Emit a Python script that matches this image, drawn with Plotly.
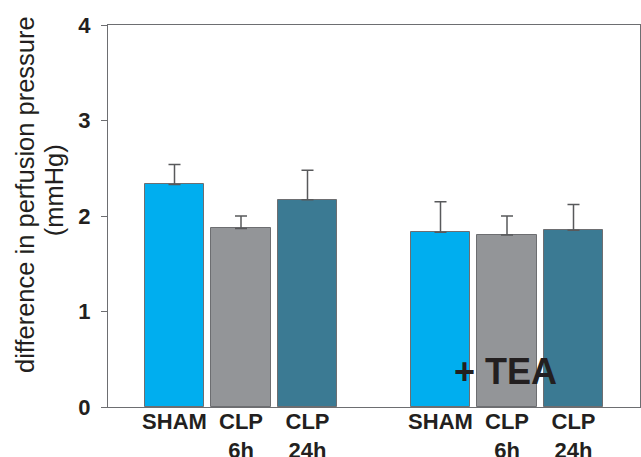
import plotly.graph_objects as go

categories = ["SHAM", "CLP 6h", "CLP 24h", "SHAM", "CLP 6h", "CLP 24h"]
positions = [0, 1, 2, 4, 5, 6]
values = [2.33, 1.87, 2.17, 1.83, 1.80, 1.85]
errors = [0.21, 0.13, 0.31, 0.32, 0.20, 0.27]
colors = ["#00AEEF", "#939598", "#3B7A93", "#00AEEF", "#939598", "#3B7A93"]
tick_labels = ["SHAM", "CLP<br>6h", "CLP<br>24h", "SHAM", "CLP<br>6h", "CLP<br>24h"]
y_ticks = [0, 1, 2, 3, 4]
y_title_lines = ["difference in perfusion pressure", "(mmHg)"]

fig = go.Figure()
fig.add_trace(go.Bar(
    x=positions, y=values, width=0.9,
    marker=dict(color=colors, line=dict(color="#6D6E71", width=1)),
    error_y=dict(type="data", array=errors, arrayminus=[0]*6, symmetric=False,
                 color="#58595B", thickness=1.5, width=6),
    showlegend=False,
))

fam = "Liberation Sans, Arial, sans-serif"

fig.add_annotation(x=4.97, y=0.37, xref="x", yref="y", text="<b>+ TEA</b>",
                   showarrow=False, font=dict(family=fam, size=36, color="#231F20"))

for (xp, yp), line in zip([(-0.186, 0.555), (-0.131, 0.568)], y_title_lines):
    fig.add_annotation(x=xp, y=yp, xref="paper", yref="paper", text=line,
                       textangle=-90, showarrow=False,
                       font=dict(family=fam, size=25.5, color="#231F20"))

fig.update_layout(
    width=641, height=457,
    margin=dict(l=108, r=1, t=25, b=50),
    paper_bgcolor="white", plot_bgcolor="white",
    font=dict(family=fam, color="#231F20"),
    xaxis=dict(range=[-1, 7], tickmode="array", tickvals=positions,
               ticktext=[f"<b>{t}</b>" for t in tick_labels],
               tickfont=dict(size=22), ticks="", showgrid=False, zeroline=False,
               automargin=False, ticklabelstandoff=-5,
               showline=True, linecolor="#6D6E71", linewidth=1, mirror=True),
    yaxis=dict(range=[0, 4], tickmode="array", tickvals=y_ticks,
               ticktext=[f"<b>{v}</b>" for v in y_ticks],
               tickfont=dict(size=22), ticks="outside", ticklen=6, tickcolor="#6D6E71",
               showgrid=False, zeroline=False, automargin=False, ticklabelstandoff=6,
               showline=True, linecolor="#6D6E71", linewidth=1, mirror=True),
    bargap=0,
)

fig.write_html("out.html", config={"displayModeBar": False},
               post_script="document.body.style.margin='0';")
